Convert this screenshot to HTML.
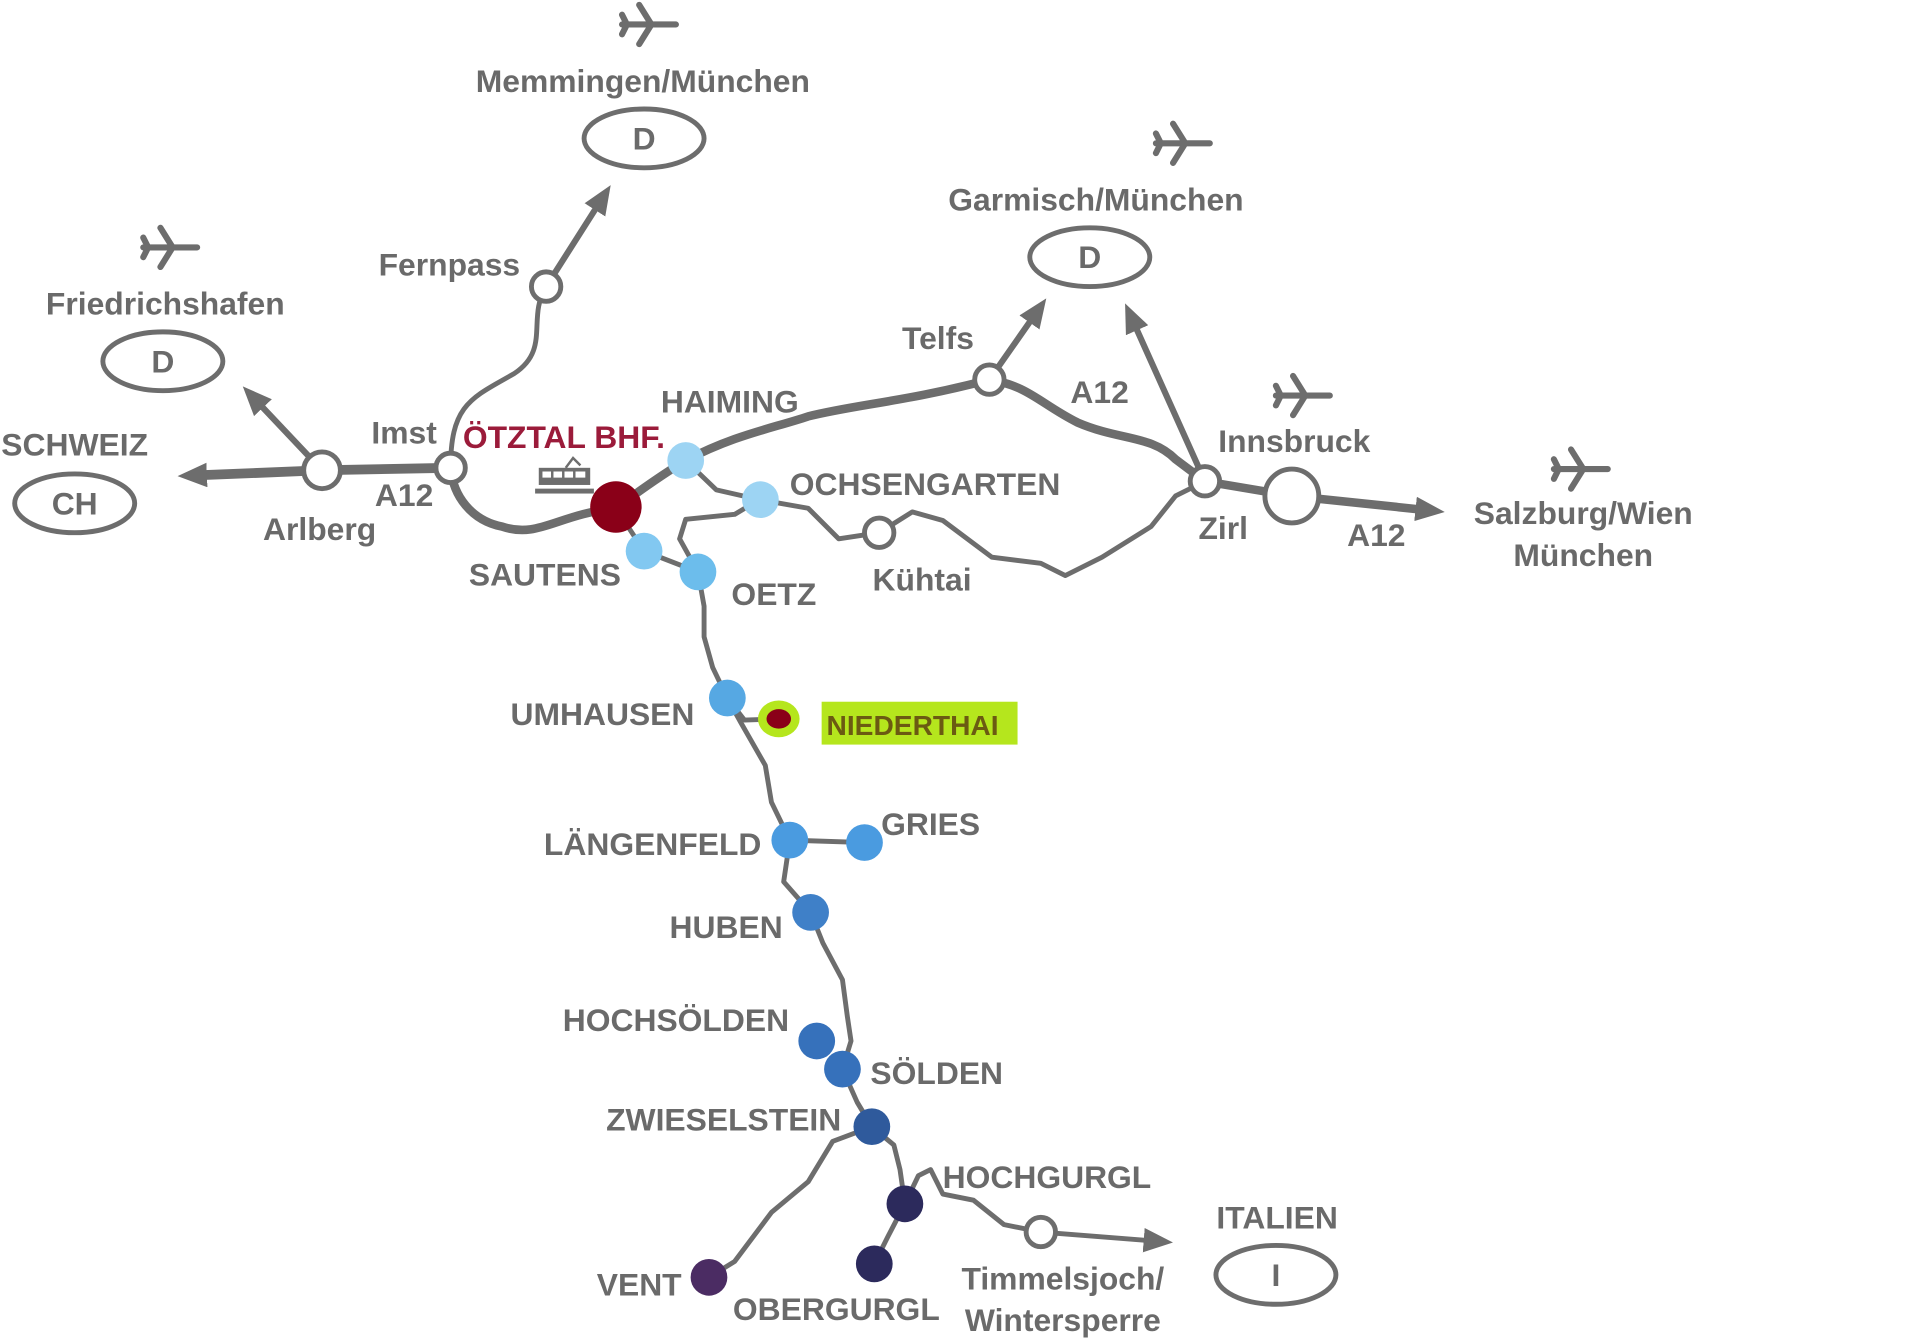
<!DOCTYPE html>
<html><head><meta charset="utf-8"><style>
html,body{margin:0;padding:0;background:#fff;width:1920px;height:1341px;overflow:hidden}
svg{display:block}
text{font-family:"Liberation Sans",sans-serif;font-weight:bold;fill:#6a6a6a;font-size:26px}
</style></head><body>
<svg width="1920" height="1341" viewBox="0 0 1568 1095" preserveAspectRatio="none" xmlns="http://www.w3.org/2000/svg">
<defs>
<marker id="ah" markerWidth="24" markerHeight="20" refX="4" refY="10" orient="auto" markerUnits="userSpaceOnUse"><path d="M0,0 L24,10 L0,20 z" fill="#6d6d6d"/></marker>
<g id="plane"><path d="M-22,0 L22,0 M2,0 L-8,-16 M2,0 L-8,16 M-18,0 L-22,-8 M-18,0 L-22,8" stroke="#6d6d6d" stroke-width="5" fill="none" stroke-linecap="round"/></g>
</defs>
<g fill="none" stroke="#6d6d6d" stroke-linecap="round" stroke-linejoin="round">
<path d="M263,384 L368,382" stroke-width="8"/>
<path d="M263,384 L165,388" stroke-width="8" marker-end="url(#ah)"/>
<path d="M368,382 C370,405 385,425 410,430 C440,440 455,420 503,415 C530,395 545,385 560,376 C600,355 630,350 660,340 C700,330 740,328 808,310 C840,315 850,330 880,345 C915,360 940,355 960,375 L984,393 L1055,405" stroke-width="7"/>
<path d="M1055,405 L1160,416" stroke-width="7" marker-end="url(#ah)"/>
<path d="M263,384 L212,330" stroke-width="5" marker-end="url(#ah)"/>
<path d="M368,382 C368,330 385,325 420,305 C450,285 430,260 446,234" stroke-width="4"/>
<path d="M446,234 L488,168" stroke-width="5" marker-end="url(#ah)"/>
<path d="M808,310 L843,260" stroke-width="5" marker-end="url(#ah)"/>
<path d="M984,393 L927,266" stroke-width="5" marker-end="url(#ah)"/>
<path d="M560,376 L585,400 L620,408 L660,415 L685,440 L718,435 L745,418 L770,425 L810,455 L850,460 L870,470 L900,455 L940,430 L960,405 L984,393" stroke-width="4"/>
<path d="M620,408 L600,420 L560,424 L555,440 L570,467" stroke-width="4"/>
<path d="M503,415 L526,450 L570,467" stroke-width="4"/>
<path d="M570,467 L575,495 L575,520 L582,545 L594,570 L605,590 L625,625 L630,655 L645,686 L640,720 L662,745 L672,770 L688,800 L692,830 L695,850 L688,873 L700,900 L712,920 L730,935 L735,955 L739,983 L725,1010 L714,1032" stroke-width="4"/>
<path d="M645,686 L706,688" stroke-width="4"/>
<path d="M594,570 L608,588 L636,587" stroke-width="4"/>
<path d="M712,920 L680,932 L660,965 L630,990 L600,1030 L579,1043" stroke-width="4"/>
<path d="M739,983 L750,960 L760,955 L770,975 L795,980 L820,1000 L850,1006" stroke-width="4"/>
<path d="M850,1006 L938,1013" stroke-width="4" marker-end="url(#ah)"/>
<ellipse cx="526" cy="113" rx="49" ry="24" stroke-width="4"/>
<ellipse cx="133" cy="295" rx="49" ry="24" stroke-width="4"/>
<ellipse cx="61" cy="411" rx="49" ry="24" stroke-width="4"/>
<ellipse cx="890" cy="210" rx="49" ry="24" stroke-width="4"/>
<ellipse cx="1042" cy="1041" rx="49" ry="24" stroke-width="4"/>
</g>
<g fill="#fff" stroke="#6d6d6d" stroke-width="4">
<circle cx="263" cy="384" r="15"/><circle cx="368" cy="382" r="12"/>
<circle cx="446" cy="234" r="12"/><circle cx="808" cy="310" r="12"/>
<circle cx="984" cy="393" r="12"/><circle cx="1055" cy="405" r="22"/>
<circle cx="718" cy="435" r="12"/><circle cx="850" cy="1006" r="12"/>
</g>
<circle cx="503" cy="414" r="21" fill="#8a0018"/>
<circle cx="560" cy="376" r="15" fill="#9dd4f3"/>
<circle cx="621" cy="408" r="15" fill="#9dd4f3"/>
<circle cx="526" cy="450" r="15" fill="#82c8f1"/>
<circle cx="570" cy="467" r="15" fill="#6cbdec"/>
<circle cx="594" cy="570" r="15" fill="#56a8e3"/>
<ellipse cx="636" cy="587" rx="17" ry="15" fill="#b5e61d"/>
<ellipse cx="636" cy="587" rx="10" ry="8" fill="#8a0018"/>
<circle cx="645" cy="686" r="15" fill="#4a9be0"/>
<circle cx="706" cy="688" r="15" fill="#4a9be0"/>
<circle cx="662" cy="745" r="15" fill="#3f80c8"/>
<circle cx="667" cy="850" r="15" fill="#3671bb"/>
<circle cx="688" cy="873" r="15" fill="#3671bb"/>
<circle cx="712" cy="920" r="15" fill="#2f5a9c"/>
<circle cx="739" cy="983" r="15" fill="#2c2a5c"/>
<circle cx="714" cy="1032" r="15" fill="#2c2a5c"/>
<circle cx="579" cy="1043" r="15" fill="#4b2c63"/>
<g fill="#6d6d6d">
<rect x="440" y="382" width="42" height="14"/>
<rect x="437" y="399" width="48" height="4"/>
</g>
<g fill="#fff"><rect x="443" y="385" width="7" height="5"/><rect x="452" y="385" width="7" height="5"/><rect x="461" y="385" width="7" height="5"/><rect x="470" y="385" width="8" height="5"/></g>
<path d="M462,382 L468,374 L474,380" stroke="#6d6d6d" stroke-width="2" fill="none"/>
<rect x="671" y="573" width="160" height="35" fill="#b5e61d"/>
<use href="#plane" x="530" y="20"/><use href="#plane" x="966" y="117"/>
<use href="#plane" x="139" y="202"/><use href="#plane" x="1064" y="323"/>
<use href="#plane" x="1291" y="383"/>
<text x="525" y="75" text-anchor="middle">Memmingen/München</text>
<text x="526" y="122" text-anchor="middle">D</text>
<text x="895" y="172" text-anchor="middle">Garmisch/München</text>
<text x="890" y="219" text-anchor="middle">D</text>
<text x="135" y="257" text-anchor="middle">Friedrichshafen</text>
<text x="133" y="304" text-anchor="middle">D</text>
<text x="61" y="372" text-anchor="middle">SCHWEIZ</text>
<text x="61" y="420" text-anchor="middle">CH</text>
<text x="1042" y="1050" text-anchor="middle">I</text>
<text x="367" y="225" text-anchor="middle">Fernpass</text>
<text x="766" y="285" text-anchor="middle">Telfs</text>
<text x="898" y="329" text-anchor="middle">A12</text>
<text x="330" y="362" text-anchor="middle">Imst</text>
<text x="330" y="413" text-anchor="middle">A12</text>
<text x="261" y="441" text-anchor="middle">Arlberg</text>
<text x="378" y="366" style="fill:#9b1b3a">ÖTZTAL BHF.</text>
<text x="596" y="337" text-anchor="middle">HAIMING</text>
<text x="645" y="404">OCHSENGARTEN</text>
<text x="445" y="478" text-anchor="middle">SAUTENS</text>
<text x="632" y="494" text-anchor="middle">OETZ</text>
<text x="753" y="482" text-anchor="middle">Kühtai</text>
<text x="1057" y="369" text-anchor="middle">Innsbruck</text>
<text x="999" y="440" text-anchor="middle">Zirl</text>
<text x="1124" y="446" text-anchor="middle">A12</text>
<text x="1293" y="428" text-anchor="middle">Salzburg/Wien</text>
<text x="1293" y="462" text-anchor="middle">München</text>
<text x="492" y="592" text-anchor="middle">UMHAUSEN</text>
<text x="675" y="600" style="fill:#6b5a12;font-size:23px">NIEDERTHAI</text>
<text x="533" y="698" text-anchor="middle">LÄNGENFELD</text>
<text x="760" y="682" text-anchor="middle">GRIES</text>
<text x="593" y="766" text-anchor="middle">HUBEN</text>
<text x="552" y="842" text-anchor="middle">HOCHSÖLDEN</text>
<text x="765" y="885" text-anchor="middle">SÖLDEN</text>
<text x="591" y="923" text-anchor="middle">ZWIESELSTEIN</text>
<text x="855" y="970" text-anchor="middle">HOCHGURGL</text>
<text x="1043" y="1003" text-anchor="middle">ITALIEN</text>
<text x="522" y="1058" text-anchor="middle">VENT</text>
<text x="683" y="1078" text-anchor="middle">OBERGURGL</text>
<text x="868" y="1053" text-anchor="middle">Timmelsjoch/</text>
<text x="868" y="1087" text-anchor="middle">Wintersperre</text>
</svg>
</body></html>
